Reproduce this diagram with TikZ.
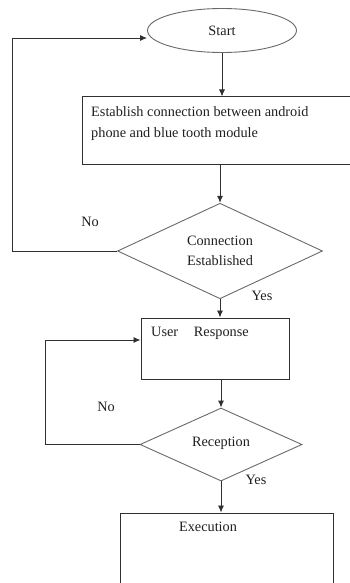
\documentclass[tikz,border=0pt]{standalone}
\usepackage{fontspec}
\setmainfont{Liberation Serif}
\usetikzlibrary{arrows.meta, positioning, shapes.geometric, calc}
\definecolor{flowline}{HTML}{303030}
\definecolor{flowdiam}{HTML}{6A6A6A}
\definecolor{flowtext}{HTML}{202020}

\begin{document}
\begin{tikzpicture}[x=1pt, y=-1pt,
    every node/.style={font=\fontsize{14.3}{21}\selectfont, text=flowtext},
    term/.style={draw=flowdiam, ellipse, line width=0.9pt, inner sep=0pt,
                 minimum width=149pt, minimum height=44pt},
    proc/.style={draw=flowline, line width=1pt, inner sep=0pt},
    cond/.style={draw=flowdiam, diamond, line width=0.9pt, inner sep=0pt, align=center},
    txt/.style={inner sep=0pt, align=left},
    arr/.style={-{Latex[length=7pt, width=6pt]}, draw=flowline, line width=0.9pt},
]
    \path[use as bounding box, clip] (0,0) rectangle (350,583);
    \fill[white] (0,0) rectangle (350,583);

    % === nodes ===
    \node[term] (start) at (222,30.5) {Start};
    \node[proc, minimum width=280pt, minimum height=67pt] (est) at (222,130.5) {};
    \node[txt, anchor=west] (esttxt) at (91,124) {Establish connection between android\\phone and blue tooth module};
    \node[cond, minimum width=205pt, minimum height=92pt] (dec1) at (220,251) {Connection\\[-1pt]Established};
    \node[proc, minimum width=148pt, minimum height=61pt] (resp) at (215,348.5) {};
    \node[txt, anchor=west] (resptxt) at (151,333) {User\hspace{1.1em}Response};
    \node[cond, minimum width=162pt, minimum height=73pt] (dec2) at (221,444.5) {\raisebox{5pt}{Reception}};
    \node[proc, minimum width=213pt, minimum height=100pt] (exec) at (226.5,563) {};
    \node[txt] (exectxt) at (208,527) {Execution};

    % === labels ===
    \node[txt] (no1) at (90,222) {No};
    \node[txt] (yes1) at (262,296) {Yes};
    \node[txt] (no2) at (106,407) {No};
    \node[txt] (yes2) at (256,480) {Yes};

    % === connectors ===
    \coordinate (loopa) at (12,38);
    \coordinate (loopb) at (45,340);
    \draw[arr] (start.south) -- (start.south |- est.north);
    \draw[arr] (est.south -| dec1.north) -- (dec1.north);
    \draw[arr] (dec1.south) -- (dec1.south |- resp.north);
    \draw[arr] (dec2.north |- resp.south) -- (dec2.north);
    \draw[arr] (dec2.south) -- (dec2.south |- exec.north);
    \draw[arr] (dec1.west) -| (loopa) -- (start.west |- loopa);
    \draw[arr] (dec2.west) -| (loopb) -- (resp.west |- loopb);
\end{tikzpicture}
\end{document}
